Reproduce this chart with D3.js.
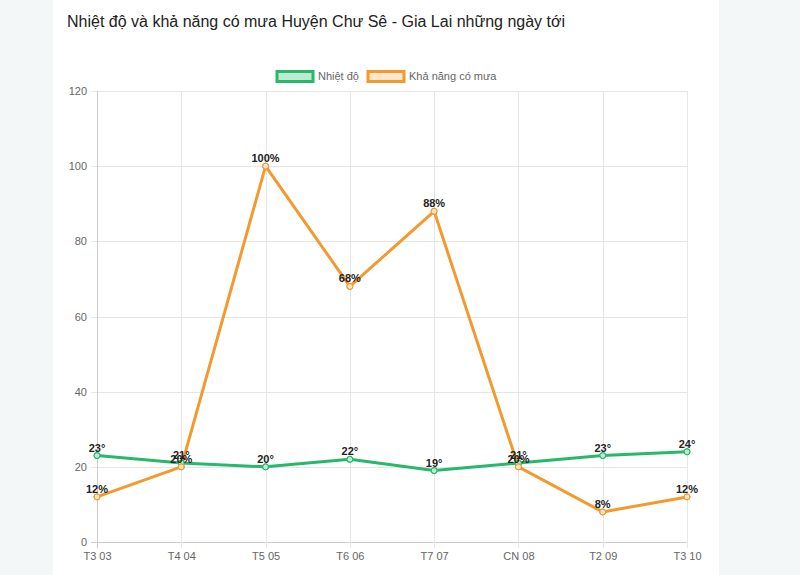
<!DOCTYPE html>
<html><head><meta charset="utf-8">
<script src="https://cdn.jsdelivr.net/npm/d3@7/dist/d3.min.js"></script>
<style>
html,body{margin:0;padding:0;background:#f4f7f8;}
#card{position:absolute;left:53px;top:0;width:666px;height:575px;background:#fff;}
svg{position:absolute;left:0;top:0;font-family:"Liberation Sans",Arial,sans-serif;}
</style></head>
<body><div id="card"></div><svg id="chart" width="800" height="575"></svg>
<script>
const title = "Nhiệt độ và khả năng có mưa Huyện Chư Sê - Gia Lai những ngày tới";
const categories = ["T3 03","T4 04","T5 05","T6 06","T7 07","CN 08","T2 09","T3 10"];
const temperature = [23,21,20,22,19,21,23,24];
const rain = [12,20,100,68,88,20,8,12];
const yTicks = [0,20,40,60,80,100,120];
const seriesNames = ["Nhiệt độ","Khả năng có mưa"];

const svg = d3.select("#chart");
const pLeft=97, pRight=687, pTop=91, pBottom=542;
const x = d3.scalePoint().domain(categories).range([pLeft,pRight]);
const y = d3.scaleLinear().domain([0,120]).range([pBottom,pTop]);

svg.append("text").attr("x",67).attr("y",27).attr("font-size",16).attr("fill","#222")
  .text(title);

// grid
const grid = svg.append("g");
grid.selectAll("line.h").data(yTicks).join("line")
  .attr("x1",pLeft-6).attr("x2",pRight).attr("y1",d=>Math.round(y(d))+0.5).attr("y2",d=>Math.round(y(d))+0.5)
  .attr("stroke",d=>d===0?"#ccc":"#e6e6e6");
grid.selectAll("line.v").data(categories).join("line")
  .attr("x1",d=>Math.round(x(d))+0.5).attr("x2",d=>Math.round(x(d))+0.5)
  .attr("y1",pTop).attr("y2",pBottom+6)
  .attr("stroke",(d,i)=>i===0?"#ccc":"#e6e6e6");

// axes
const yAxis = d3.axisLeft(y).tickValues(yTicks).tickSize(0).tickPadding(10);
const ga = svg.append("g").attr("transform",`translate(${pLeft},0)`).call(yAxis);
ga.select(".domain").remove();
ga.selectAll("text").attr("font-size",11).attr("fill","#666").attr("font-family","Liberation Sans, Arial, sans-serif");
const xAxis = d3.axisBottom(x).tickSize(0).tickPadding(10);
const gx = svg.append("g").attr("transform",`translate(0,${pBottom})`).call(xAxis);
gx.select(".domain").remove();
gx.selectAll("text").attr("font-size",11).attr("fill","#666").attr("font-family","Liberation Sans, Arial, sans-serif");

const series = [
  {name:seriesNames[0], vals:temperature, color:"#27b86b", fill:"rgba(39,184,107,0.3)", fmt:v=>v+"°"},
  {name:seriesNames[1], vals:rain, color:"#f29a2e", fill:"rgba(242,154,46,0.25)", fmt:v=>v+"%"}
];
const line = d3.line().x((d,i)=>x(categories[i])).y(d=>y(d));
series.forEach(s=>{
  svg.append("path").datum(s.vals).attr("d",line).attr("fill","none")
    .attr("stroke",s.color).attr("stroke-width",3).attr("stroke-linejoin","round");
});
series.forEach(s=>{
  svg.append("g").selectAll("circle").data(s.vals).join("circle")
    .attr("cx",(d,i)=>x(categories[i])).attr("cy",d=>y(d)).attr("r",3)
    .attr("fill","#fff").attr("stroke",s.color).attr("stroke-width",1);
  svg.append("g").selectAll("circle").data(s.vals).join("circle")
    .attr("cx",(d,i)=>x(categories[i])).attr("cy",d=>y(d)).attr("r",3)
    .attr("fill",s.fill).attr("stroke",s.color).attr("stroke-width",1);
});
series.forEach(s=>{
  svg.append("g").selectAll("text").data(s.vals).join("text")
    .attr("x",(d,i)=>x(categories[i])).attr("y",d=>y(d)-4)
    .attr("text-anchor","middle").attr("font-size",11).attr("font-weight","bold").attr("fill","#222")
    .text(s.fmt);
});

// legend
const legendX = [276,367];
series.forEach((s,i)=>{
  const lx = legendX[i];
  svg.append("rect").attr("x",lx+1).attr("y",71.5).attr("width",36).attr("height",10)
    .attr("fill",s.fill).attr("stroke",s.color).attr("stroke-width",3);
  svg.append("text").attr("x",lx+42).attr("y",80).attr("font-size",11).attr("fill","#666").text(s.name);
});
</script></body></html>
